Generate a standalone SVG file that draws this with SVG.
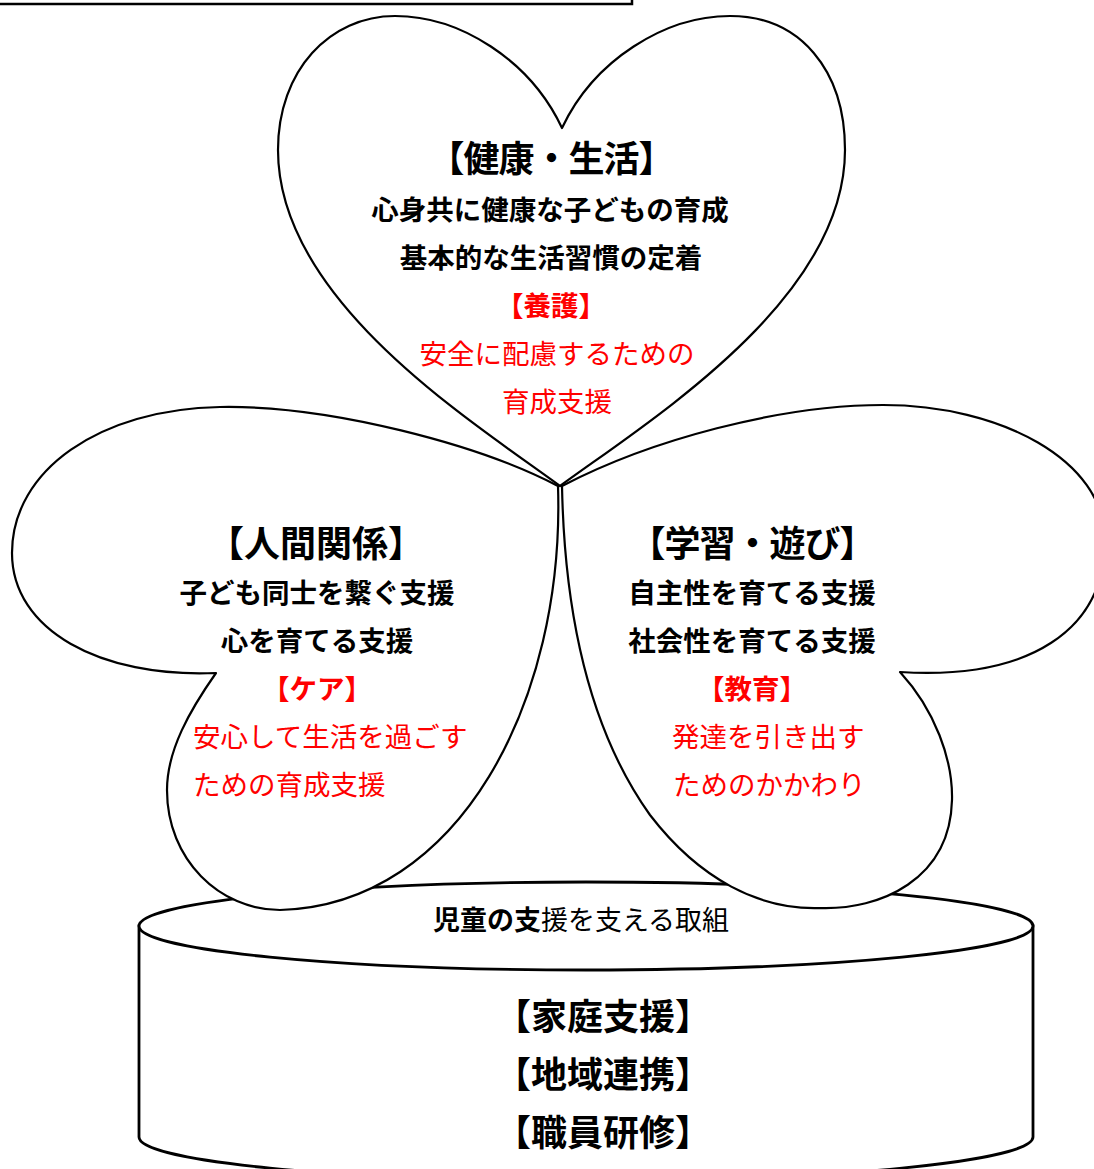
<svg xmlns="http://www.w3.org/2000/svg" width="1094" height="1169" viewBox="0 0 1094 1169">
<style>
.shape{fill:#fff;stroke:#000;stroke-width:2.2;stroke-linejoin:round}
.cyl{fill:#fff;stroke:#000;stroke-width:2.8}
text{font-family:"Noto Sans CJK JP","Noto Sans",sans-serif}
.t{font-size:36px;font-weight:700;fill:#000;text-anchor:middle}
.b{font-size:27.5px;font-weight:700;fill:#000;text-anchor:middle}
.rb{font-size:27.5px;font-weight:700;fill:#ff0000;text-anchor:middle}
.r{font-size:27.5px;font-weight:400;fill:#ff0000}
.rc{text-anchor:middle}
</style>
<rect width="1094" height="1169" fill="#fff"/>
<g id="header-box">
<rect x="-10" y="-30" width="642" height="34" fill="#fff" stroke="#000" stroke-width="2.5"/>
</g>
<g id="base-cylinder">
<path class="cyl" d="M139,926 L139,1137 A447,44 0 0 0 1033,1137 L1033,926 Z"/>
<ellipse class="cyl" cx="586" cy="926" rx="447" ry="44"/>
<text x="581" y="930" font-size="27" text-anchor="middle" fill="#000"><tspan font-weight="700">児童の支</tspan><tspan font-weight="400">援を支える取組</tspan></text>
<text class="t" x="603" y="1030">【家庭支援】</text>
<text class="t" x="603" y="1088">【地域連携】</text>
<text class="t" x="603" y="1146">【職員研修】</text>
</g>
<g id="heart-left">
<path class="shape" d="M558,486 C480,445 330,405 220,407 C100,409 12,470 12,553 C12,630 100,678 216,673 C190,710 167,750 167,790 C167,860 220,910 280,910 C460,905 565,700 558,486 Z"/>
<text class="t" x="316" y="557">【人間関係】</text>
<text class="b" x="317" y="603">子ども同士を繋ぐ支援</text>
<text class="b" x="317" y="651">心を育てる支援</text>
<text class="rb" x="317" y="699">【ケア】</text>
<text class="r" x="193" y="747">安心して生活を過ごす</text>
<text class="r" x="193" y="795">ための育成支援</text>
</g>
<g id="heart-right">
<path class="shape" d="M562,486 C650,440 780,405 883,405 C1000,405 1105,460 1105,540 C1105,630 1030,680 900,672 C935,710 953,760 952,800 C950,880 880,910 820,908 C760,910 700,880 650,815 C600,745 565,640 562,486 Z"/>
<text class="t" x="752" y="557" letter-spacing="-1">【学習・遊び】</text>
<text class="b" x="752" y="603">自主性を育てる支援</text>
<text class="b" x="752" y="651">社会性を育てる支援</text>
<text class="rb" x="752" y="699">【教育】</text>
<text class="r" x="672" y="747">発達を引き出す</text>
<text class="r" x="673" y="795">ためのかかわり</text>
</g>
<g id="heart-top">
<path class="shape" d="M560,486 C470,420 278,300 278,150 C278,70 330,16 395,16 C460,16 530,60 562,128 C594,60 665,16 730,16 C800,16 845,70 845,150 C845,300 650,420 560,486 Z"/>
<text class="t" x="551" y="172" letter-spacing="-1">【健康・生活】</text>
<text class="b" x="550" y="220">心身共に健康な子どもの育成</text>
<text class="b" x="551" y="268">基本的な生活習慣の定着</text>
<text class="rb" x="551" y="316">【養護】</text>
<text class="r rc" x="557" y="364">安全に配慮するための</text>
<text class="r rc" x="557" y="412">育成支援</text>
</g>
<g id="connectors"/>
</svg>
